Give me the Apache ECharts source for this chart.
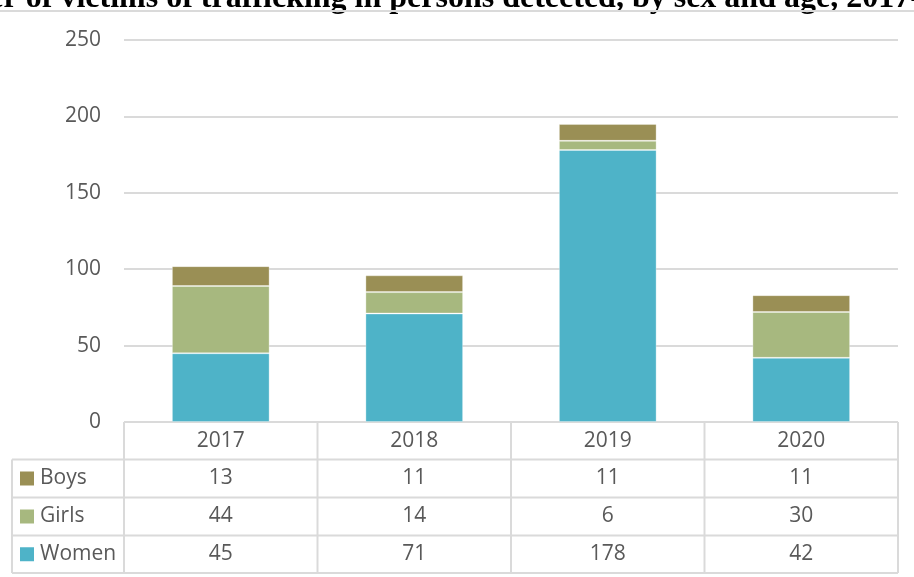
<!DOCTYPE html>
<html>
<head>
<meta charset="utf-8">
<script src="https://cdn.jsdelivr.net/npm/echarts@6/dist/echarts.min.js"></script>
<style>
  html, body { margin: 0; padding: 0; background: #fff; }
  #main { width: 914px; height: 577px; }
</style>
</head>
<body>
<div id="main"></div>
<script>
var years = ['2017', '2018', '2019', '2020'];
var boys = [13, 11, 11, 11];
var girls = [44, 14, 6, 30];
var women = [45, 71, 178, 42];
var yTicks = [0, 50, 100, 150, 200, 250];
var titleText = 'Number of victims of trafficking in persons detected, by sex and age, 2017-2020';

var COLORS = { Boys: '#9A8F55', Girls: '#A7B87F', Women: '#4EB3C8' };
var rows = [
    { name: 'Boys', values: boys },
    { name: 'Girls', values: girls },
    { name: 'Women', values: women }
];

var TXT = '#595959';
var LINE = '#DADADA';
var FONT = '"Open Sans", sans-serif';
var FS = 21;

var gridLeft = 124, gridRight = 898, axisY = 422;
var rowLines = [422, 459.5, 497.5, 535.5, 573];
var tableLeft = 12;

var dom = document.getElementById('main');
var myChart = echarts.init(dom);

var barStyle = function (c) {
    return { color: c, borderColor: 'rgba(255,255,255,0.3)', borderWidth: 1 };
};

var option = {
    animation: false,
    grid: { left: gridLeft, right: 914 - gridRight, top: 40, bottom: 577 - axisY },
    xAxis: {
        type: 'category',
        data: years,
        axisLine: { show: false },
        axisTick: { show: false },
        axisLabel: { show: false }
    },
    yAxis: {
        type: 'value',
        min: yTicks[0],
        max: yTicks[yTicks.length - 1],
        interval: 50,
        axisLine: { show: false },
        axisTick: { show: false },
        axisLabel: { color: TXT, fontSize: FS, fontFamily: FONT, margin: 23 },
        splitLine: { lineStyle: { color: LINE, width: 2 } }
    },
    series: [
        { name: 'Women', type: 'bar', stack: 'a', data: women, barWidth: '50.5%', itemStyle: barStyle(COLORS.Women) },
        { name: 'Girls', type: 'bar', stack: 'a', data: girls, itemStyle: barStyle(COLORS.Girls) },
        { name: 'Boys', type: 'bar', stack: 'a', data: boys, itemStyle: barStyle(COLORS.Boys) }
    ]
};
myChart.setOption(option);

// data table under the axis
var g = [];
function hline(x1, x2, y) {
    g.push({ type: 'line', silent: true, shape: { x1: x1, y1: y, x2: x2, y2: y },
             style: { stroke: LINE, lineWidth: 2 } });
}
function vline(x, y1, y2) {
    g.push({ type: 'line', silent: true, shape: { x1: x, y1: y1, x2: x, y2: y2 },
             style: { stroke: LINE, lineWidth: 2 } });
}
function txt(x, y, s, align) {
    g.push({ type: 'text', silent: true, x: x, y: y,
             style: { text: s, fill: TXT, font: FS + 'px ' + FONT, align: align || 'center', verticalAlign: 'middle' } });
}

var colW = (gridRight - gridLeft) / years.length;
hline(gridLeft, gridRight, rowLines[0]);
for (var r = 1; r < rowLines.length; r++) hline(tableLeft, gridRight, rowLines[r]);
vline(tableLeft, rowLines[1], rowLines[4]);
for (var c = 0; c <= years.length; c++) vline(gridLeft + c * colW, rowLines[0], rowLines[4]);

for (var i = 0; i < years.length; i++) {
    var cx = myChart.convertToPixel({ xAxisIndex: 0 }, years[i]);
    txt(cx, (rowLines[0] + rowLines[1]) / 2, years[i]);
    for (var r = 0; r < rows.length; r++) {
        txt(cx, (rowLines[r + 1] + rowLines[r + 2]) / 2, String(rows[r].values[i]));
    }
}
for (var r = 0; r < rows.length; r++) {
    var cy = (rowLines[r + 1] + rowLines[r + 2]) / 2;
    g.push({ type: 'rect', silent: true, shape: { x: 20, y: cy - 7, width: 14, height: 14 },
             style: { fill: COLORS[rows[r].name] } });
    txt(40, cy, rows[r].name, 'left');
}

// cropped title and rule at the top
g.push({ type: 'text', silent: true, x: -96, y: 15,
         style: { text: titleText, fill: '#000', font: 'bold 32px "Liberation Serif", serif',
                  align: 'left', verticalAlign: 'bottom' } });
hline(0, 914, 11);

myChart.setOption({ graphic: g });
</script>
</body>
</html>
